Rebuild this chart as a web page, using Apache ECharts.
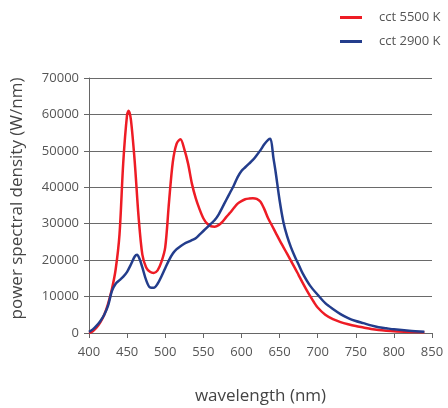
<!DOCTYPE html>
<html>
<head>
<meta charset="utf-8">
<script src="https://cdn.jsdelivr.net/npm/echarts@6/dist/echarts.min.js"></script>
<style>html,body{margin:0;padding:0;background:#fff;}#c{width:448px;height:408px;}</style>
</head>
<body>
<div id="c"></div>
<script>
var seriesNames = ['cct 5500 K', 'cct 2900 K'];
var redWl = [400,405,410,415,420,425,430,435,440,445,450,452,455,460,465,470,475,480,485,490,495,500,505,510,515,520,525,530,535,540,545,550,555,560,565,570,575,580,585,590,595,600,605,610,615,620,625,630,635,640,645,650,655,660,665,670,675,680,685,690,695,700,710,720,730,740,750,760,770,780,790,800,820,840];
var redVal = [0,500,1500,3000,5000,8000,12000,17500,27000,47000,60000,61000,58500,47000,32000,21500,18000,16800,16500,17200,19500,23500,36000,47000,52000,53200,50500,46500,41000,37000,34000,31500,30000,29300,29200,29600,30500,31800,33000,34300,35500,36200,36700,36900,37000,36800,36000,34000,31500,29500,27500,25500,23600,21700,19800,17900,15900,13900,12000,10200,8500,7000,5000,3800,3000,2400,1900,1500,1100,800,600,450,300,200];
var blueWl = [400,405,410,415,420,425,430,435,440,445,450,455,460,463,466,470,475,480,485,490,495,500,505,510,515,520,525,530,535,540,545,550,555,560,565,570,575,580,585,590,595,600,605,610,615,620,625,630,635,638,642,645,650,655,660,665,670,675,680,690,700,710,720,730,740,750,760,770,780,790,800,820,840];
var blueVal = [300,1000,2000,3300,5000,7500,11500,13500,14500,15500,16800,18800,21000,21500,20500,18000,14500,12500,12400,13500,15500,17800,20000,21800,23000,23800,24500,25000,25500,26000,27000,28000,29000,30000,31000,32500,34500,36500,38500,40500,42800,44500,45500,46500,47500,48800,50200,51800,53000,53300,48000,44000,36500,30500,26500,23500,21000,18800,16500,13000,10500,8200,6600,5200,4100,3300,2700,2100,1600,1300,1000,600,350];
var xTicks = {min:400, max:850, interval:50};
var yTicks = {min:0, max:70000, interval:10000};

function pairs(xs, ys){ return xs.map(function(x,i){return [x, ys[i]];}); }

var chart = echarts.init(document.getElementById('c'), null, {renderer:'canvas'});
var font = '"Open Sans", "DejaVu Sans", sans-serif';
chart.setOption({
  animation: false,
  backgroundColor: '#fff',
  textStyle: {fontFamily: font},
  legend: {
    orient: 'vertical',
    left: 340, top: 11, padding: 0,
    itemWidth: 22, itemHeight: 3, itemGap: 11,
    icon: 'rect',
    textStyle: {color: '#555', fontSize: 13, lineHeight: 13, fontFamily: font, padding:[0,0,0,12]},
    data: seriesNames
  },
  grid: {left: 89, right: 16, top: 78, bottom: 75, containLabel: false, outerBoundsMode: 'none'},
  xAxis: {
    type: 'value', min: xTicks.min, max: xTicks.max, interval: xTicks.interval,
    name: 'wavelength (nm)', nameLocation: 'middle', nameGap: 55,
    nameTextStyle: {color: '#444', fontSize: 17, fontFamily: font},
    axisLine: {show: true, lineStyle: {color: '#666', width: 1}},
    axisTick: {show: true, length: 5, lineStyle: {color: '#666'}},
    axisLabel: {color: '#555', fontSize: 13, margin: 13, fontFamily: font, formatter: function(v){return String(v);}},
    splitLine: {show: false}
  },
  yAxis: {
    type: 'value', min: yTicks.min, max: yTicks.max, interval: yTicks.interval,
    name: 'power spectral density (W/nm)', nameLocation: 'middle', nameGap: 63,
    nameTextStyle: {color: '#444', fontSize: 17, fontFamily: font, padding: [0,0,0,14]},
    axisLine: {show: true, lineStyle: {color: '#666', width: 1}},
    axisTick: {show: true, length: 5, lineStyle: {color: '#666'}},
    axisLabel: {color: '#555', fontSize: 13, margin: 10, fontFamily: font, formatter: function(v){return String(v);}},
    splitLine: {show: true, lineStyle: {color: '#6a6a6a', width: 1}}
  },
  series: [
    {name: seriesNames[0], type: 'line', data: pairs(redWl, redVal), smooth: 0.3, showSymbol: false, symbol: 'none',
     lineStyle: {color: '#ee1c25', width: 2.5}, itemStyle: {color: '#ee1c25'}, z: 2},
    {name: seriesNames[1], type: 'line', data: pairs(blueWl, blueVal), smooth: 0.3, showSymbol: false, symbol: 'none',
     lineStyle: {color: '#233d8c', width: 2.5}, itemStyle: {color: '#233d8c'}, z: 3}
  ]
});
</script>
</body>
</html>
